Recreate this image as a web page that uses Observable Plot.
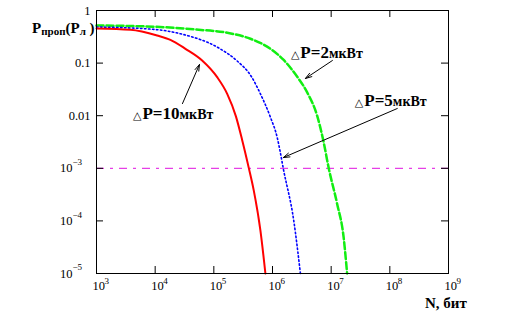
<!DOCTYPE html>
<html><head><meta charset="utf-8">
<script src="https://cdn.jsdelivr.net/npm/d3@7"></script>
<script src="https://cdn.jsdelivr.net/npm/@observablehq/plot@0.6"></script>
<style>body{margin:0;background:#fff} svg{display:block}</style>
</head><body><div id="chart"></div>
<script>
// ΔP = 10 мкВт (red, solid)
const redN = [1e3, 3.8e3, 1.08e4, 1.82e4, 3.28e4, 6.32e4, 1.14e5, 1.69e5, 2.38e5, 3.03e5, 3.94e5, 4.79e5, 6.22e5, 7.57e5];
const redP = [0.455, 0.43, 0.335, 0.277, 0.187, 0.112, 0.054, 0.026, 0.0097, 0.0035, 1.02e-3, 3.8e-4, 6.6e-5, 1e-5];
// ΔP = 5 мкВт (blue, dotted)
const blueN = [1e3, 1.01e4, 2.7e4, 1.28e5, 2.45e5, 4.43e5, 6.22e5, 9.2e5, 1.2e6, 1.36e6, 1.52e6, 2.3e6, 2.99e6];
const blueP = [0.486, 0.435, 0.361, 0.187, 0.112, 0.054, 0.026, 0.0094, 0.0039, 2.0e-3, 1.02e-3, 1.02e-4, 1e-5];
// ΔP = 2 мкВт (green, dashed)
const greenN = [1e3, 1.01e4, 4.86e4, 1.69e5, 4.21e5, 9.2e5, 1.55e6, 2.62e6, 3.88e6, 5.75e6, 7.45e6, 9.06e6, 1.26e7, 1.63e7, 1.87e7];
const greenP = [0.519, 0.49, 0.435, 0.377, 0.29, 0.187, 0.1146, 0.0556, 0.028, 0.0101, 3.13e-3, 1.02e-3, 2.14e-4, 4.9e-5, 1e-5];

const xTicks = [1e3, 1e4, 1e5, 1e6, 1e7, 1e8, 1e9];
const xTickExp = ["3", "4", "5", "6", "7", "8", "9"];
const yTicks = [1, 0.1, 0.01, 1e-3, 1e-4, 1e-5];
const yTickBase = ["1", "0.1", "0.01", "10", "10", "10"];
const yTickExp = ["", "", "", "−3", "−4", "−5"];
const thresholdP = [1e-3];

// annotations
const labelValue = ["10", "2", "5"];
const labelN = [4.27e3, 2.1e6, 2.58e7];
const labelP = [0.011, 0.159, 0.0194];
const arrowN1 = [2.92e4, 1.05e7, 1.34e8];
const arrowP1 = [0.017, 0.112, 0.0137];
const arrowN2 = [5.69e4, 3.64e6, 1.53e6];
const arrowP2 = [0.094, 0.051, 1.6e-3];

const serif = "'Liberation Serif', 'Times New Roman', 'DejaVu Serif', serif";
const toRows = (N, P) => N.map((n, i) => ({N: n, P: P[i]}));
const arrows = arrowN1.map((n, i) => ({x1: n, y1: arrowP1[i], x2: arrowN2[i], y2: arrowP2[i]}));

const W = 515, H = 321, mL = 96, mR = 67, mT = 10, mB = 48;
const fw = W - mL - mR, fh = H - mT - mB, tk = 7;

const chart = Plot.plot({
  width: W, height: H,
  marginLeft: mL, marginRight: mR, marginTop: mT, marginBottom: mB,
  style: {background: "#fff", color: "#000", fontFamily: serif},
  x: {type: "log", domain: [1e3, 1e9], axis: null},
  y: {type: "log", domain: [1e-5, 1], axis: null},
  marks: [
    Plot.ruleY(thresholdP, {stroke: "#e010e0", strokeWidth: 1, strokeDasharray: "8,6,3,6"}),
    Plot.line(toRows(greenN, greenP), {x: "N", y: "P", stroke: "#11ee11", strokeWidth: 2.5, strokeDasharray: "7,3", curve: "monotone-x"}),
    Plot.line(toRows(blueN, blueP), {x: "N", y: "P", stroke: "#0000ff", strokeWidth: 1.6, strokeDasharray: "1.5,2.5", curve: "monotone-x"}),
    Plot.line(toRows(redN, redP), {x: "N", y: "P", stroke: "#ff0000", strokeWidth: 2, curve: "monotone-x"}),
    Plot.frame({stroke: "#000", strokeWidth: 1}),
    Plot.ruleX(xTicks, {x: d => d, insetTop: fh - tk, stroke: "#000"}),
    Plot.ruleX(xTicks, {x: d => d, insetBottom: fh - tk, stroke: "#000"}),
    Plot.ruleY(yTicks, {y: d => d, insetRight: fw - tk, stroke: "#000"}),
    Plot.ruleY(yTicks, {y: d => d, insetLeft: fw - tk, stroke: "#000"}),
    Plot.text(xTicks, {x: d => d, frameAnchor: "bottom", text: () => "10", dx: -4, dy: 16, textAnchor: "start", fontSize: 12.5, fontFamily: serif, fill: "#000"}),
    Plot.text(xTicks, {x: d => d, frameAnchor: "bottom", text: (d, i) => xTickExp[i], dx: 8, dy: 10, textAnchor: "start", fontSize: 9, fontFamily: serif, fill: "#000"}),
    Plot.text(yTicks, {y: d => d, frameAnchor: "left", text: (d, i) => yTickBase[i], filter: (d, i) => yTickExp[i] === "", dx: -6, textAnchor: "end", fontSize: 12.5, fontFamily: serif, fill: "#000"}),
    Plot.text(yTicks, {y: d => d, frameAnchor: "left", text: (d, i) => yTickBase[i], filter: (d, i) => yTickExp[i] !== "", dx: -24, textAnchor: "end", fontSize: 12.5, fontFamily: serif, fill: "#000"}),
    Plot.text(yTicks, {y: d => d, frameAnchor: "left", text: (d, i) => yTickExp[i], filter: (d, i) => yTickExp[i] !== "", dx: -24, dy: -6, textAnchor: "start", fontSize: 9, fontFamily: serif, fill: "#000"}),
    Plot.arrow(arrows, {x1: "x1", y1: "y1", x2: "x2", y2: "y2", stroke: "#000", strokeWidth: 1, headLength: 10, headAngle: 35})
  ]
});
document.getElementById("chart").append(chart);

const svg = d3.select(chart);
const sx = chart.scale("x"), sy = chart.scale("y");
labelValue.forEach((v, i) => {
  const t = svg.append("text")
    .attr("x", sx.apply(labelN[i]))
    .attr("y", sy.apply(labelP[i]) + 6)
    .attr("text-anchor", "start")
    .attr("font-family", serif).attr("fill", "#000");
  t.append("tspan").attr("font-family", "DejaVu Sans, sans-serif").attr("font-size", 11).text("△");
  t.append("tspan").attr("font-size", 17).attr("font-weight", "bold").attr("dx", 1).text("P=" + v);
  t.append("tspan").attr("font-size", 14).attr("font-weight", "bold").text("мкВт");
});

// axis titles
const yt = svg.append("text").attr("x", 32).attr("y", 33).attr("text-anchor", "start")
  .attr("font-family", serif).attr("font-weight", "bold").attr("fill", "#000");
yt.append("tspan").attr("font-size", 15).text("P");
yt.append("tspan").attr("font-size", 11).attr("dy", 2).text("проп");
yt.append("tspan").attr("font-size", 15).attr("dy", -2).text("(P");
yt.append("tspan").attr("font-size", 11).attr("dy", 2).text("л");
yt.append("tspan").attr("font-size", 15).attr("dy", -2).text(" )");

svg.append("text").attr("x", 425).attr("y", 308).attr("text-anchor", "start")
  .attr("font-family", serif).attr("font-weight", "bold")
  .attr("font-size", 15).attr("fill", "#000").text("N, бит");
</script>
</body></html>
